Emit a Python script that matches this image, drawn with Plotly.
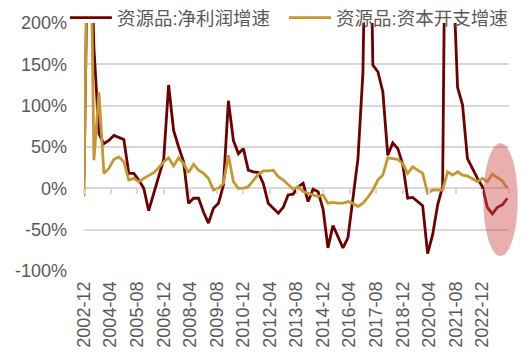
import pandas as pd
import plotly.graph_objects as go

# quarterly observations, 2002-12 .. 2024-03
dates = pd.date_range("2002-12-01", periods=86, freq="3MS")

profit_growth = [
    12, 400, 170, 66, 54, 58, 64, 61, 59, 18,
    18, 10, 0, -27, -6, 12, 35, 125, 70, 50,
    32, -18, -12, -12, -29, -42, -24, -18, 4, 106,
    58, 42, 48, 22, 20, 19, 6, -18, -24, -30,
    -23, -8, -7, 2, 6, -16, -1, -4, -25, -72,
    -45, -59, -72, -60, -12, 36, 140, 520, 149, 141,
    117, 40, 55, 48, 29, -12, -11, -16, -21, -79,
    -56, -20, 2, 650, 280, 122, 101, 36, 23, 12,
    2, -23, -31, -23, -20, -12,
]

capex_growth = [
    -10, 480, 34, 116, 18, 24, 35, 38, 32, 10,
    12, 8, 12, 16, 19, 25, 32, 37, 27, 37,
    30, 19, 29, 22, 18, 12, -2, 0, 6, 40,
    8, 0, 0, 2, 10, 17, 21, 21, 22, 14,
    10, 5, -1, 2, -4, -6, -8, -10, -8, -18,
    -17, -18, -18, -16, -18, -22, -18, -11, -2, 10,
    16, 37, 36, 35, 30, 18, 26, 22, 18, -6,
    -2, -2, -2, 20, 16, 20, 16, 15, 12, 8,
    12, 8, 17, 13, 9, 0,
]

x_tick_labels = [
    "2002-12", "2004-04", "2005-08", "2006-12", "2008-04", "2009-08",
    "2010-12", "2012-04", "2013-08", "2014-12", "2016-04", "2017-08",
    "2018-12", "2020-04", "2021-08", "2022-12",
]
y_ticks = [-100, -50, 0, 50, 100, 150, 200]

series_names = ["资源品:净利润增速", "资源品:资本开支增速"]
series_colors = ["#6E0000", "#C39833"]

GRID = "#D9D9D9"
TXT = "#595959"
FONT = "Liberation Sans, Arial, Noto Sans CJK SC, sans-serif"

fig = go.Figure()
for k, (name, vals, col) in enumerate(zip(series_names, [profit_growth, capex_growth], series_colors)):
    fig.add_trace(go.Scatter(
        x=dates, y=vals, mode="lines", name=name,
        line=dict(color=col, width=2.8),
        legend="legend" if k == 0 else "legend2",
    ))

# helper trace for the tick marks drawn on the 0% line
fig.add_trace(go.Scatter(x=[dates[0]], y=[None], xaxis="x2", mode="lines",
                         showlegend=False, hoverinfo="skip"))

x_range = ["2002-12-01", "2024-04-01"]
leg_common = dict(
    orientation="h", xanchor="left", y=1.02, yanchor="middle",
    bgcolor="rgba(0,0,0,0)", font=dict(size=18.5, color=TXT),
    itemwidth=42,
)

fig.update_layout(
    width=531, height=354,
    margin=dict(l=84, r=22, t=23, b=83, autoexpand=False),
    paper_bgcolor="white", plot_bgcolor="white",
    font=dict(family=FONT, size=18, color=TXT),
    xaxis=dict(
        type="date", range=x_range, automargin=False,
        tickvals=[l + "-01" for l in x_tick_labels], ticktext=x_tick_labels,
        tickangle=-90, showgrid=False, zeroline=False, showline=False,
        ticks="", ticklabelstandoff=6,
        tickfont=dict(size=18, color=TXT),
    ),
    xaxis2=dict(
        type="date", range=x_range, overlaying="x", anchor="free",
        position=1 / 3, side="bottom", automargin=False,
        tick0="2002-12-01", dtick="M16",
        ticks="outside", ticklen=5, tickwidth=1.5, tickcolor=GRID,
        showticklabels=False, showgrid=False, zeroline=False, showline=False,
    ),
    yaxis=dict(
        range=[-100, 200], tickvals=y_ticks, automargin=False,
        ticktext=[f"{v}%" for v in y_ticks],
        showgrid=True, gridcolor=GRID, gridwidth=1.5,
        zeroline=True, zerolinecolor=GRID, zerolinewidth=1.5,
        showline=False, ticks="", ticklabelstandoff=16,
        tickfont=dict(size=18, color=TXT),
    ),
    legend=dict(x=-0.045, **leg_common),
    legend2=dict(x=0.4706, **leg_common),
    shapes=[dict(
        type="circle", xref="paper", yref="paper",
        x0=0.9395, x1=1.0205, y0=0.0605, y1=0.515,
        fillcolor="rgba(207,78,78,0.45)", line=dict(width=0), layer="above",
    )],
    showlegend=True,
)

fig.write_html("out.html")
